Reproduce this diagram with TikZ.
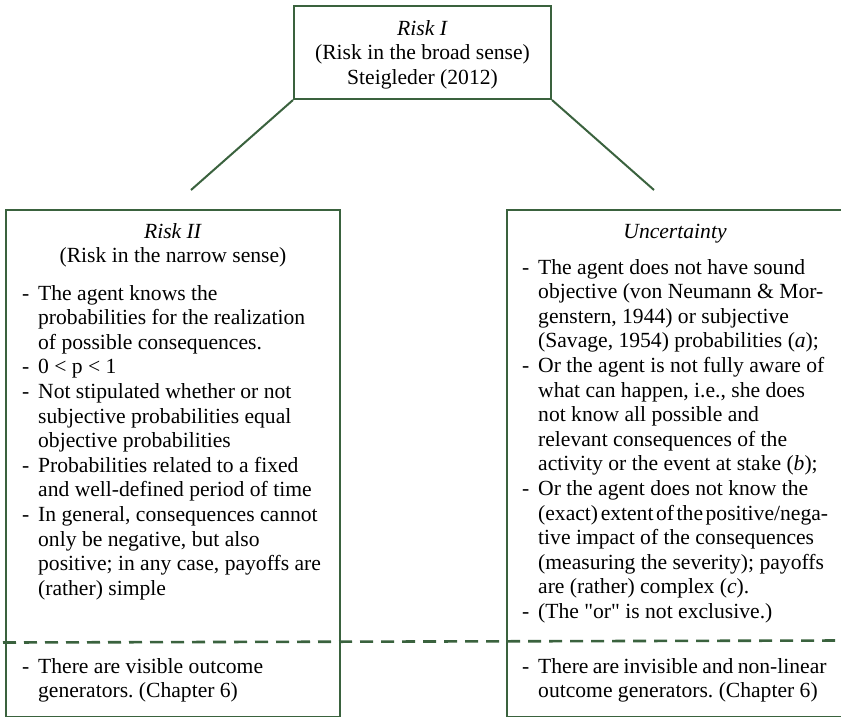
\documentclass[tikz,border=0pt]{standalone}
\usepackage{fontspec}
\setmainfont{Liberation Serif}
% same face without the TeX quote mapping, for straight double quotes
\newfontfamily\plainserif{Liberation Serif}
\newcommand{\straightquote}{{\plainserif"}}
\definecolor{framegreen}{RGB}{58,98,62}

% body text metrics
\newcommand{\bodyfont}{\fontsize{21.6}{24.6}\selectfont}
\newlength{\dashindent}
\setlength{\dashindent}{16pt}
% one "- " item with a hanging indent; lines are broken by hand with \newline
\newcommand{\dashitem}[1]{\par\hangindent=\dashindent\hangafter=1\noindent
  \makebox[\dashindent][l]{-}#1\par}
% blocks whose reference point is the baseline of their first line
\newcommand{\itemblock}[1]{\vtop{\hsize=315pt\bodyfont\frenchspacing\raggedright
  \parindent=0pt\parskip=0pt #1}}
\newcommand{\headblock}[1]{\vtop{\hsize=320pt\bodyfont\centering #1\par}}

\begin{document}
\begin{tikzpicture}[x=1pt,y=-1pt,
  frame/.style={draw=framegreen,line width=2pt,inner sep=0pt},
  link/.style={draw=framegreen,line width=2pt},
  divider/.style={draw=framegreen,line width=2.6pt,dash pattern=on 13pt off 8pt},
  blocktext/.style={inner sep=0pt,anchor=base west},
  headtext/.style={inner sep=0pt,anchor=base}]
\useasboundingbox (0,0) rectangle (841,716);
\clip (0,0) rectangle (841,716);

% frames
\node[frame,minimum width=257pt,minimum height=93pt] (riskI) at (422.5,52.5) {};
\node[frame,minimum width=334pt,minimum height=506.5pt] (riskII) at (173,463.25) {};
\node[frame,minimum width=336pt,minimum height=506.5pt] (uncert) at (675,463.25) {};

% branches from the top frame
\coordinate (lfoot) at (191,190);
\coordinate (rfoot) at (654,190);
\draw[link] (riskI.south west) -- (lfoot);
\draw[link] (riskI.south east) -- (rfoot);

% divider across both frames
\coordinate (divL) at (3,642.5);
\coordinate (divR) at (841,640.5);
\draw[divider] (divL) -- (divR);

% top frame text
\node[headtext] (riskItext) at (422.5,35) {\headblock{\textit{Risk I}\\
  (Risk in the broad sense)\\ Steigleder (2012)}};

% left frame
\node[headtext] (riskIIhead) at (173,238) {\headblock{\textit{Risk II}\\
  (Risk in the narrow sense)}};
\node[blocktext] (riskIIbody) at (22,300) {\itemblock{%
  \dashitem{The agent knows the\newline probabilities for the realization\newline
    of possible consequences.}
  \dashitem{0 < p < 1}
  \dashitem{Not stipulated whether or not\newline subjective probabilities equal\newline
    objective probabilities}
  \dashitem{Probabilities related to a fixed\newline and well-defined period of time}
  \dashitem{In general, consequences cannot\newline only be negative, but also\newline
    positive; in any case, payoffs are\newline (rather) simple}}};
\node[blocktext] (riskIIgen) at (22,673) {\itemblock{%
  \dashitem{There are visible outcome\newline generators. (Chapter 6)}}};

% right frame
\node[headtext] (uncerthead) at (675,238) {\headblock{\textit{Uncertainty}}};
\node[blocktext] (uncertbody) at (522,274) {\itemblock{%
  \dashitem{The agent does not have sound\newline objective (von Neumann \& Mor-\newline
    genstern, 1944) or subjective\newline (Savage, 1954) probabilities (\textit{a});}
  \dashitem{Or the agent is not fully aware of\newline what can happen, i.e., she does\newline
    not know all possible and\newline relevant consequences of the\newline
    activity or the event at stake (\textit{b});}
  \dashitem{Or the agent does not know the\newline
    {\spaceskip=0.12em (exact) extent of the positive/nega-}\newline
    tive impact of the consequences\newline (measuring the severity); payoffs\newline
    are (rather) complex (\textit{c}).}
  \dashitem{(The \straightquote or\straightquote{} is not exclusive.)}}};
\node[blocktext] (uncertgen) at (522,673) {\itemblock{%
  \dashitem{{\spaceskip=0.2em There are invisible and non-linear}\newline
    outcome generators. (Chapter 6)}}};
\end{tikzpicture}
\end{document}
